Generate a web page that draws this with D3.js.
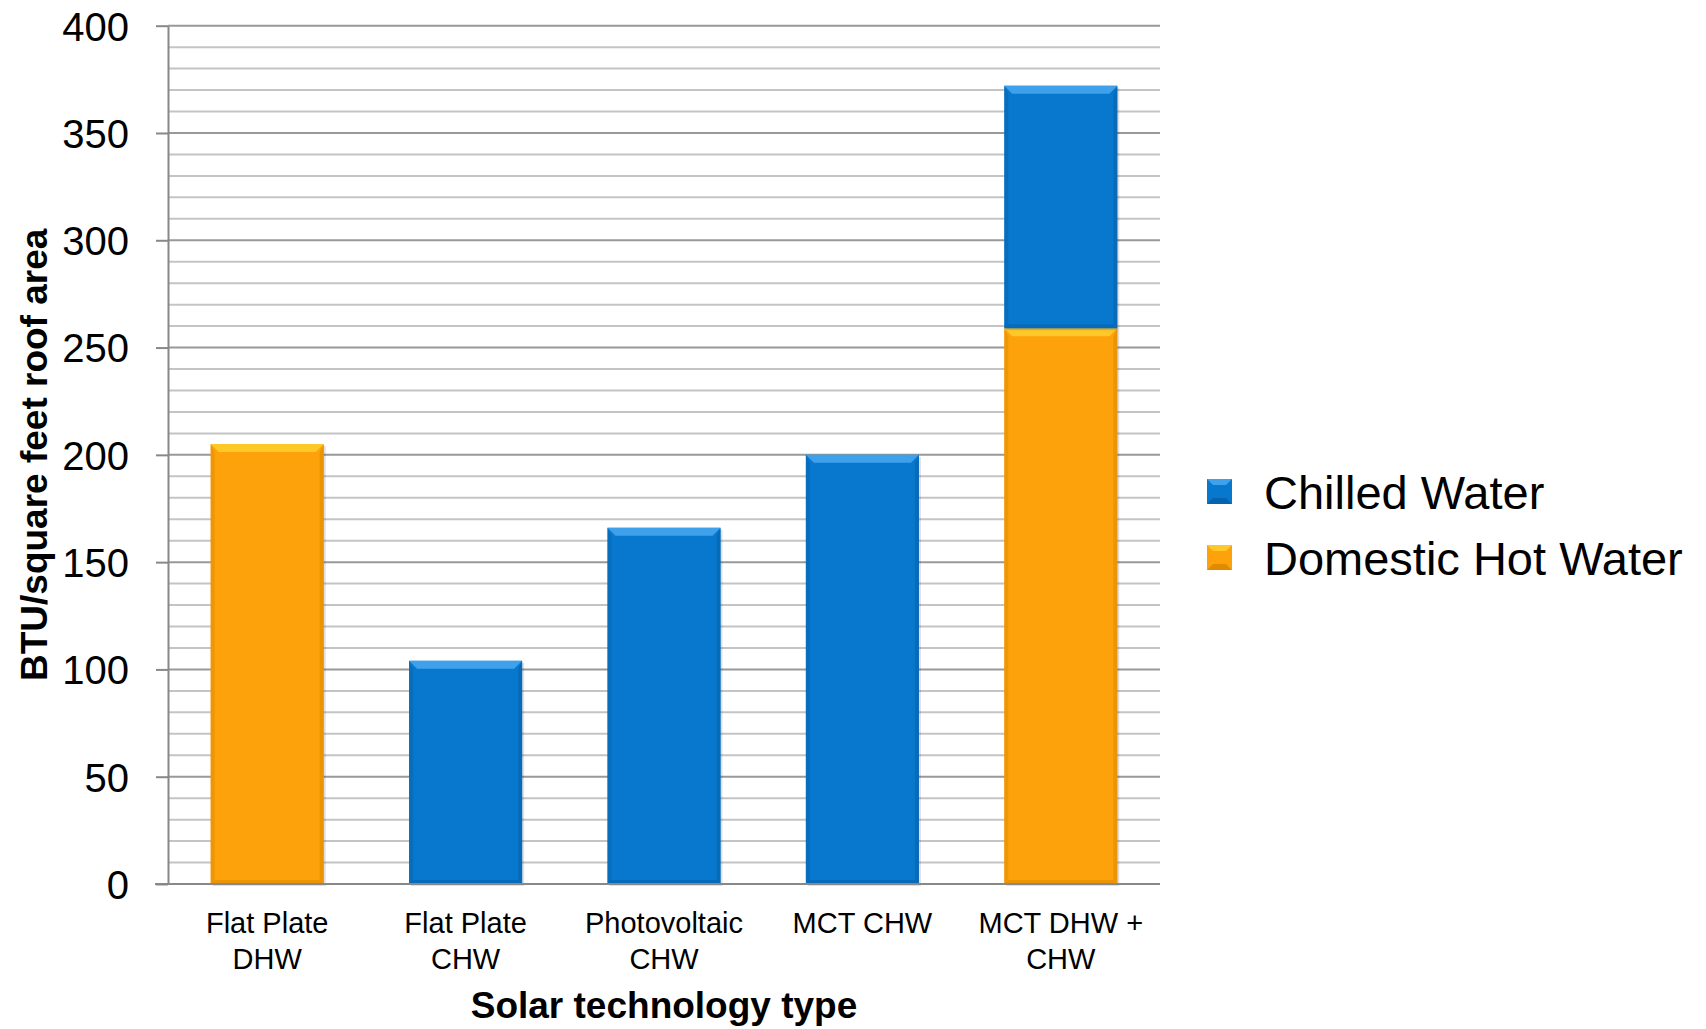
<html>
<head>
<script src="https://d3js.org/d3.v7.min.js"></script>
<style>
  body { margin: 0; background: #fff; }
  text { font-family: "Liberation Sans", Arial, sans-serif; fill: #000; }
</style>
</head>
<body>
<svg width="1706" height="1029"></svg>
<script>
// data
var categories = ["Flat Plate DHW", "Flat Plate CHW", "Photovoltaic CHW", "MCT CHW", "MCT DHW + CHW"];
var categoryLines = [["Flat Plate", "DHW"], ["Flat Plate", "CHW"], ["Photovoltaic", "CHW"], ["MCT CHW"], ["MCT DHW +", "CHW"]];
var hotWater = [205, 0, 0, 0, 259];
var chilledWater = [0, 104, 166, 200, 113];
var seriesNames = ["Domestic Hot Water", "Chilled Water"];
var yTicks = [0, 50, 100, 150, 200, 250, 300, 350, 400];
var yMinor = d3.range(0, 401, 10);

var plotLeft = 168, plotRight = 1160, plotTop = 25.7, plotBottom = 884;

var svg = d3.select("svg");

var x = d3.scaleBand()
    .domain(categories)
    .range([plotLeft, plotRight])
    .paddingInner(0.43)
    .paddingOuter(0.215);

var y = d3.scaleLinear()
    .domain([0, 400])
    .range([plotBottom, plotTop]);

var color = d3.scaleOrdinal()
    .domain(seriesNames)
    .range(["#FDA20A", "#0878CE"]);
var light = { "Domestic Hot Water": "#FFC829", "Chilled Water": "#3FA0EC" };
var dark = { "Domestic Hot Water": "#E08A00", "Chilled Water": "#0663AE" };

// minor grid
svg.append("g")
    .selectAll("line")
    .data(yMinor.filter(function(d) { return d % 50 != 0; }))
    .enter().append("line")
    .attr("x1", plotLeft).attr("x2", plotRight)
    .attr("y1", function(d) { return y(d); })
    .attr("y2", function(d) { return y(d); })
    .style("stroke", "#c4c4c4")
    .style("stroke-width", "2px");

// major grid
svg.append("g")
    .selectAll("line")
    .data(yTicks.filter(function(d) { return d > 0; }))
    .enter().append("line")
    .attr("x1", plotLeft).attr("x2", plotRight)
    .attr("y1", function(d) { return y(d); })
    .attr("y2", function(d) { return y(d); })
    .style("stroke", "#999")
    .style("stroke-width", "2px");

var table = categories.map(function(c, i) {
    return { cat: c, "Domestic Hot Water": hotWater[i], "Chilled Water": chilledWater[i] };
});
var stacked = d3.stack().keys(seriesNames)(table);

var bev = 8;
stacked.forEach(function(s) {
    var g = svg.append("g");
    var segs = s.filter(function(d) { return d[1] > d[0]; });
    segs.forEach(function(d) {
        var x0 = x(d.data.cat), w = x.bandwidth();
        var y0 = y(d[1]), y1 = y(d[0]);
        // soft shadow
        g.append("rect")
            .attr("x", x0 + 2).attr("y", y0 + 2)
            .attr("width", w).attr("height", y1 - y0)
            .style("fill", "#000").style("opacity", 0.12);
        g.append("rect")
            .attr("x", x0).attr("y", y0)
            .attr("width", w).attr("height", y1 - y0)
            .style("fill", color(s.key));
        // bevel top
        g.append("polygon")
            .attr("points", [[x0, y0], [x0 + w, y0], [x0 + w - bev, y0 + bev], [x0 + bev, y0 + bev]].join(" "))
            .style("fill", light[s.key]);
        // bevel sides
        g.append("polygon")
            .attr("points", [[x0, y0], [x0 + bev * 0.5, y0 + bev], [x0 + bev * 0.5, y1 - bev * 0.5], [x0, y1]].join(" "))
            .style("fill", dark[s.key]).style("opacity", 0.5);
        g.append("polygon")
            .attr("points", [[x0 + w, y0], [x0 + w - bev * 0.5, y0 + bev], [x0 + w - bev * 0.5, y1 - bev * 0.5], [x0 + w, y1]].join(" "))
            .style("fill", dark[s.key]).style("opacity", 0.6);
        g.append("polygon")
            .attr("points", [[x0, y1], [x0 + bev * 0.5, y1 - bev * 0.5], [x0 + w - bev * 0.5, y1 - bev * 0.5], [x0 + w, y1]].join(" "))
            .style("fill", dark[s.key]).style("opacity", 0.6);
    });
});

// y axis
var yAxis = svg.append("g")
    .attr("transform", "translate(" + plotLeft + ",0)")
    .call(d3.axisLeft(y).tickValues(yTicks).tickSize(12).tickPadding(27).tickSizeOuter(0));
yAxis.select(".domain").style("stroke", "#888").style("stroke-width", "2px");
yAxis.selectAll(".tick line").style("stroke", "#888").style("stroke-width", "2px");
yAxis.selectAll(".tick text")
    .style("font-size", "40px")
    .style("font-family", "Liberation Sans, Arial, sans-serif")
    .attr("dy", "0.36em");

// x baseline
svg.append("line")
    .attr("x1", plotLeft - 13).attr("x2", plotRight)
    .attr("y1", y(0)).attr("y2", y(0))
    .style("stroke", "#888").style("stroke-width", "2px");

// category labels
var xAxis = svg.append("g")
    .attr("transform", "translate(0," + plotBottom + ")")
    .call(d3.axisBottom(x).tickSize(0).tickFormat(""));
xAxis.select(".domain").remove();
xAxis.selectAll(".tick").each(function(d, i) {
    var t = d3.select(this).append("text")
        .attr("text-anchor", "middle")
        .style("font-size", "29px")
        .style("font-family", "Liberation Sans, Arial, sans-serif")
        .style("fill", "#000");
    categoryLines[i].forEach(function(line, j) {
        t.append("tspan").attr("x", 0).attr("y", 49 + j * 36).text(line);
    });
});

// axis titles
svg.append("text")
    .attr("x", (plotLeft + plotRight) / 2)
    .attr("y", 1018)
    .attr("text-anchor", "middle")
    .style("font-size", "37px")
    .style("font-weight", "bold")
    .text("Solar technology type");

svg.append("text")
    .attr("transform", "translate(47," + (plotTop + plotBottom) / 2 + ") rotate(-90)")
    .attr("text-anchor", "middle")
    .style("font-size", "37px")
    .style("font-weight", "bold")
    .text("BTU/square feet roof area");

// legend
var legendOrder = ["Chilled Water", "Domestic Hot Water"];
var legend = svg.append("g")
    .selectAll("g")
    .data(legendOrder)
    .enter().append("g")
    .attr("transform", function(d, i) { return "translate(1207," + (479 + i * 66) + ")"; });
legend.append("rect")
    .attr("width", 25).attr("height", 25)
    .style("fill", function(d) { return color(d); });
legend.append("polygon")
    .attr("points", "0,0 25,0 19,6 6,6")
    .style("fill", function(d) { return light[d]; });
legend.append("polygon")
    .attr("points", "0,25 25,25 19,19 6,19")
    .style("fill", function(d) { return dark[d]; });
legend.append("text")
    .attr("x", 57)
    .attr("y", 30)
    .style("font-size", "47px")
    .text(function(d) { return d; });
</script>
</body>
</html>
